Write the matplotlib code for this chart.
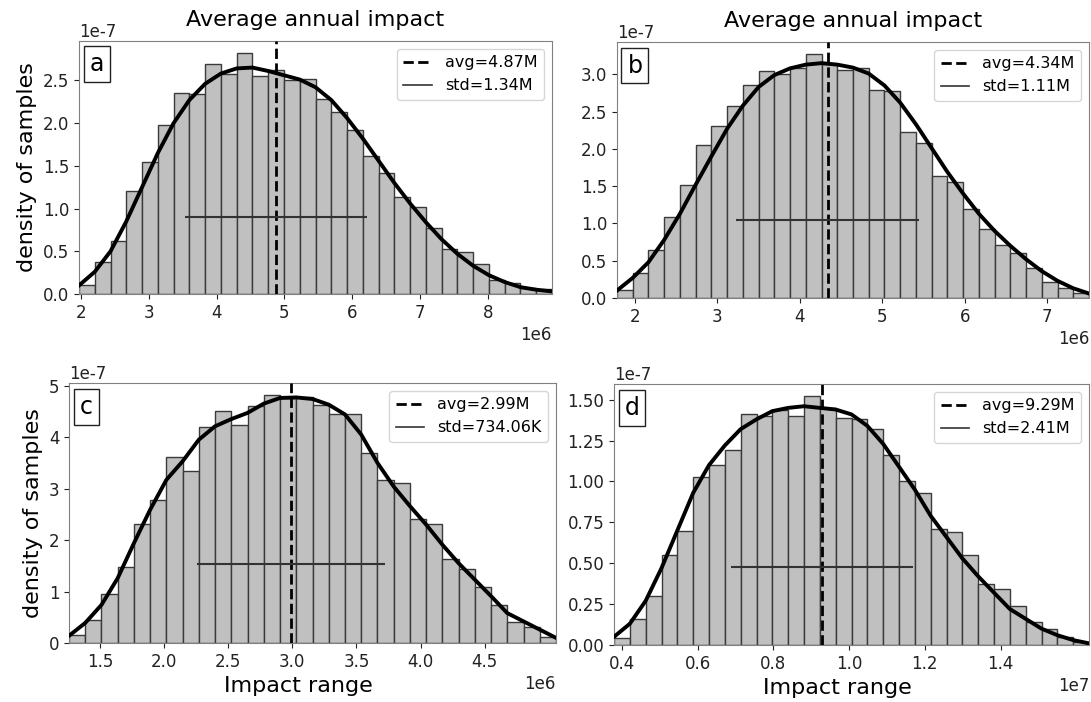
import numpy as np
import matplotlib.pyplot as plt
from matplotlib.lines import Line2D

plt.rcParams['axes.unicode_minus'] = False

# histogram heights (units of 1e-7), 30 equal bins per panel
hist_a = [0.11, 0.37, 0.62, 1.21, 1.55, 1.98, 2.35, 2.34, 2.69, 2.57,
          2.82, 2.55, 2.62, 2.50, 2.52, 2.28, 2.13, 1.92, 1.61, 1.42,
          1.13, 1.02, 0.77, 0.53, 0.49, 0.35, 0.16, 0.13, 0.07, 0.06]
hist_b = [0.11, 0.33, 0.64, 1.08, 1.52, 2.05, 2.31, 2.58, 2.86, 3.04,
          3.01, 3.08, 3.27, 3.14, 3.06, 3.08, 2.79, 2.77, 2.23, 2.08,
          1.64, 1.55, 1.20, 0.93, 0.71, 0.61, 0.40, 0.22, 0.14, 0.07]
hist_c = [0.16, 0.45, 0.95, 1.48, 2.31, 2.77, 3.61, 3.34, 4.20, 4.50,
          4.24, 4.61, 4.81, 4.76, 4.77, 4.63, 4.44, 4.44, 3.70, 3.16,
          3.11, 2.40, 2.31, 1.63, 1.44, 1.09, 0.74, 0.40, 0.32, 0.11]
hist_d = [0.04, 0.16, 0.30, 0.55, 0.70, 1.03, 1.10, 1.19, 1.41, 1.40,
          1.44, 1.40, 1.52, 1.45, 1.39, 1.38, 1.32, 1.16, 1.00, 0.93,
          0.71, 0.69, 0.55, 0.37, 0.34, 0.24, 0.14, 0.10, 0.05, 0.02]

# kde curve read at the bin edges (units of 1e-7)
kde_a = [0.10, 0.26, 0.50, 0.85, 1.25, 1.65, 2.00, 2.27, 2.46, 2.58, 2.64,
         2.65, 2.61, 2.56, 2.51, 2.42, 2.27, 2.06, 1.82, 1.56, 1.30,
         1.06, 0.84, 0.64, 0.47, 0.33, 0.22, 0.14, 0.08, 0.05, 0.03]
kde_b = [0.10, 0.27, 0.48, 0.78, 1.13, 1.52, 1.90, 2.27, 2.58, 2.83, 2.99,
         3.08, 3.13, 3.15, 3.13, 3.09, 3.01, 2.85, 2.62, 2.33, 2.01,
         1.69, 1.40, 1.13, 0.90, 0.70, 0.52, 0.36, 0.23, 0.13, 0.06]
kde_c = [0.14, 0.39, 0.74, 1.26, 1.94, 2.59, 3.17, 3.53, 3.95, 4.21, 4.35,
         4.47, 4.65, 4.76, 4.77, 4.74, 4.63, 4.44, 4.05, 3.50, 3.04,
         2.66, 2.30, 1.91, 1.55, 1.23, 0.91, 0.58, 0.42, 0.26, 0.10]
kde_d = [0.05, 0.13, 0.27, 0.47, 0.70, 0.93, 1.10, 1.22, 1.32, 1.38, 1.43,
         1.45, 1.46, 1.45, 1.44, 1.41, 1.34, 1.23, 1.09, 0.95, 0.79,
         0.66, 0.53, 0.42, 0.32, 0.22, 0.16, 0.10, 0.06, 0.03, 0.01]

# data range of each panel
x_range = {'a': (1.974e6, 8.94e6), 'b': (1.787e6, 7.506e6),
           'c': (1.258e6, 5.056e6), 'd': (0.3795e7, 1.6335e7)}
avg = {'a': 4.87e6, 'b': 4.34e6, 'c': 2.99e6, 'd': 9.29e6}
std = {'a': 1.34e6, 'b': 1.11e6, 'c': 734.06e3, 'd': 2.41e6}
std_y = {'a': 0.90, 'b': 1.04, 'c': 1.53, 'd': 0.48}
avg_txt = {'a': 'avg=4.87M', 'b': 'avg=4.34M', 'c': 'avg=2.99M', 'd': 'avg=9.29M'}
std_txt = {'a': 'std=1.34M', 'b': 'std=1.11M', 'c': 'std=734.06K', 'd': 'std=2.41M'}
xticks = {'a': [2, 3, 4, 5, 6, 7, 8], 'b': [2, 3, 4, 5, 6, 7],
          'c': [1.5, 2.0, 2.5, 3.0, 3.5, 4.0, 4.5],
          'd': [0.4, 0.6, 0.8, 1.0, 1.2, 1.4]}
xscale = {'a': 1e6, 'b': 1e6, 'c': 1e6, 'd': 1e7}
yticks = {'a': [0, 0.5, 1.0, 1.5, 2.0, 2.5], 'b': [0, 0.5, 1.0, 1.5, 2.0, 2.5, 3.0],
          'c': [0, 1, 2, 3, 4, 5], 'd': [0, 0.25, 0.5, 0.75, 1.0, 1.25, 1.5]}
hists = {'a': hist_a, 'b': hist_b, 'c': hist_c, 'd': hist_d}
kdes = {'a': kde_a, 'b': kde_b, 'c': kde_c, 'd': kde_d}

W, H = 1091, 702
# axes boxes in pixels: left, top, right, bottom
boxes = {'a': (79, 41, 552, 294), 'b': (617, 42, 1089, 298),
         'c': (69, 383, 556, 643), 'd': (614, 384, 1089, 645)}

fig = plt.figure(figsize=(W / 100, H / 100), dpi=100)

for key in ['a', 'b', 'c', 'd']:
    l, t, r, b = boxes[key]
    ax = fig.add_axes([l / W, 1 - b / H, (r - l) / W, (b - t) / H])
    lo, hi = x_range[key]
    heights = np.array(hists[key]) * 1e-7
    edges = np.linspace(lo, hi, len(heights) + 1)
    ax.bar(edges[:-1], heights, width=np.diff(edges), align='edge',
           color='#c0c0c0', edgecolor='#3a3a3a', linewidth=1.0)
    ax.plot(edges, np.array(kdes[key]) * 1e-7, color='black', lw=2.8,
            zorder=4, solid_joinstyle='round')
    ax.axvline(avg[key], color='black', ls='--', lw=2, zorder=5)
    ax.hlines(std_y[key] * 1e-7, avg[key] - std[key], avg[key] + std[key],
              color='#333333', lw=1.5, zorder=5)
    ax.set_xlim(lo, hi)
    ax.set_ylim(0, max(hists[key]) * 1.05e-7)
    ax.set_xticks(np.array(xticks[key]) * xscale[key])
    ax.set_yticks(np.array(yticks[key]) * 1e-7)
    ax.tick_params(labelsize=12, colors='#222222')
    ax.xaxis.get_offset_text().set_fontsize(12)
    ax.yaxis.get_offset_text().set_fontsize(12)
    for s in ax.spines.values():
        s.set_color('#808080')

    handles = [Line2D([], [], color='black', ls='--', lw=2),
               Line2D([], [], color='#333333', lw=1.2)]
    ax.legend(handles, [avg_txt[key], std_txt[key]], loc='upper right',
              fontsize=11.5, handlelength=1.8)
    ax.text(0.022, 0.955, key, transform=ax.transAxes, fontsize=17,
            va='top', ha='left', zorder=6,
            bbox=dict(boxstyle='square,pad=0.25', fc='white', ec='#222222'))

    if key in ('a', 'b'):
        ax.set_title('Average annual impact', fontsize=16, pad=11)
    if key in ('a', 'c'):
        ax.set_ylabel('density of samples', fontsize=16)
    if key in ('c', 'd'):
        ax.set_xlabel('Impact range', fontsize=16, labelpad=0)
        ax.xaxis.set_label_coords(0.47, -0.125)

fig.savefig('out.png', dpi=100)
